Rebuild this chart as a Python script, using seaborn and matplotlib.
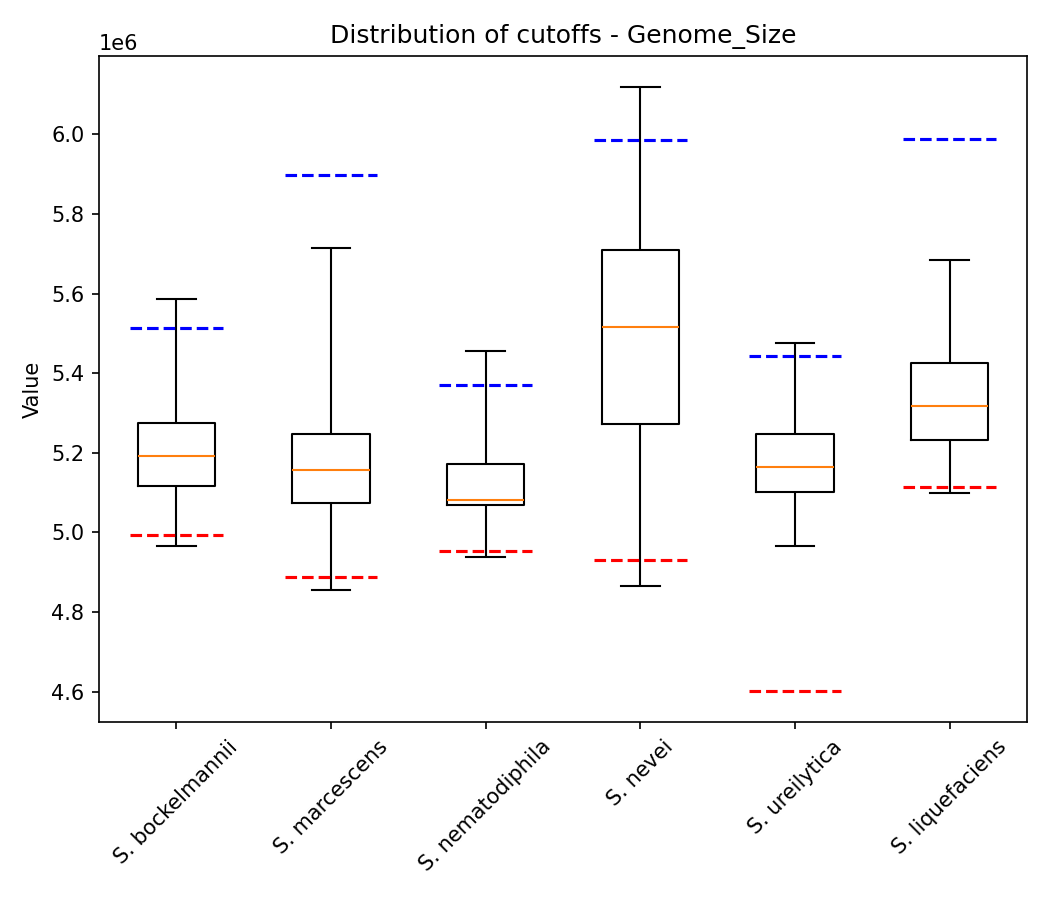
import matplotlib
matplotlib.use("Agg")
import matplotlib.pyplot as plt
import seaborn as sns
import pandas as pd
import numpy as np

species = ["S. bockelmannii", "S. marcescens", "S. nematodiphila",
           "S. nevei", "S. ureilytica", "S. liquefaciens"]

# five-number summaries (x1e6): whisker low, Q1, median, Q3, whisker high
whisker_low = [4.966, 4.855, 4.938, 4.865, 4.967, 5.099]
q1          = [5.118, 5.073, 5.068, 5.273, 5.102, 5.232]
median      = [5.191, 5.158, 5.081, 5.516, 5.164, 5.318]
q3          = [5.276, 5.247, 5.171, 5.710, 5.247, 5.425]
whisker_high = [5.587, 5.714, 5.456, 6.120, 5.475, 5.685]

# cutoff lines (x1e6)
upper_cutoff = [5.513, 5.897, 5.371, 5.987, 5.443, 5.988]
lower_cutoff = [4.993, 4.888, 4.953, 4.930, 4.602, 5.114]

rows = []
for i, sp in enumerate(species):
    for v in (whisker_low[i], q1[i], median[i], q3[i], whisker_high[i]):
        rows.append({"Species": sp, "Value": v * 1e6})
df = pd.DataFrame(rows)

fig, ax = plt.subplots(figsize=(7, 6), dpi=150)
sns.boxplot(data=df, x="Species", y="Value", order=species, ax=ax,
            whis=(0, 100), width=0.5, fill=False, color="black",
            linewidth=1.0,
            medianprops=dict(color="#ff7f0e", linewidth=1.0),
            boxprops=dict(color="black"),
            whiskerprops=dict(color="black"),
            capprops=dict(color="black"))

for i in range(len(species)):
    ax.hlines(upper_cutoff[i] * 1e6, i - 0.3, i + 0.3, colors="blue",
              linestyles="--", linewidth=1.5)
    ax.hlines(lower_cutoff[i] * 1e6, i - 0.3, i + 0.3, colors="red",
              linestyles="--", linewidth=1.5)

ax.set_xlim(-0.5, len(species) - 0.5)
ax.set_ylim(4.524e6, 6.197e6)
ax.set_title("Distribution of cutoffs - Genome_Size")
ax.set_xlabel("")
ax.set_ylabel("Value")
plt.setp(ax.get_xticklabels(), rotation=45, ha="center")

fig.subplots_adjust(left=0.0943, right=0.978, bottom=0.1978, top=0.9378)
fig.savefig("out.png", dpi=150)
